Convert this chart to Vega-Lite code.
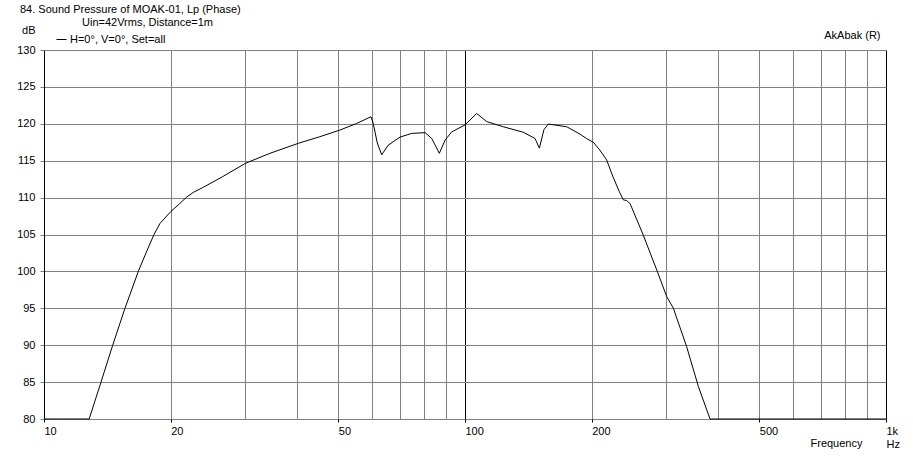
{
  "$schema": "https://vega.github.io/schema/vega-lite/v6.json",
  "width": 842,
  "height": 369,
  "autosize": "none",
  "padding": {"left": 44, "top": 50, "right": 27, "bottom": 37},
  "background": "white",
  "config": {"font": "Liberation Sans", "view": {"stroke": null}},
  "title": {"text": "84. Sound Pressure of MOAK-01, Lp (Phase)", "anchor": "start", "frame": "group", "dx": -24, "fontSize": 11, "fontWeight": "normal", "color": "black", "offset": 2},
  "data": {"values": [
    {"f": 10, "db": 80, "s": "H=0°, V=0°, Set=all"},
    {"f": 12.8, "db": 80, "s": "H=0°, V=0°, Set=all"},
    {"f": 13.66, "db": 85, "s": "H=0°, V=0°, Set=all"},
    {"f": 14.56, "db": 90, "s": "H=0°, V=0°, Set=all"},
    {"f": 15.57, "db": 95, "s": "H=0°, V=0°, Set=all"},
    {"f": 16.75, "db": 100, "s": "H=0°, V=0°, Set=all"},
    {"f": 17.5, "db": 102.6, "s": "H=0°, V=0°, Set=all"},
    {"f": 18.25, "db": 105, "s": "H=0°, V=0°, Set=all"},
    {"f": 18.86, "db": 106.5, "s": "H=0°, V=0°, Set=all"},
    {"f": 20.0, "db": 108.1, "s": "H=0°, V=0°, Set=all"},
    {"f": 20.83, "db": 109.0, "s": "H=0°, V=0°, Set=all"},
    {"f": 21.8, "db": 110.05, "s": "H=0°, V=0°, Set=all"},
    {"f": 22.62, "db": 110.7, "s": "H=0°, V=0°, Set=all"},
    {"f": 23.9, "db": 111.4, "s": "H=0°, V=0°, Set=all"},
    {"f": 26.5, "db": 112.8, "s": "H=0°, V=0°, Set=all"},
    {"f": 30.1, "db": 114.65, "s": "H=0°, V=0°, Set=all"},
    {"f": 34.4, "db": 116.0, "s": "H=0°, V=0°, Set=all"},
    {"f": 40.2, "db": 117.36, "s": "H=0°, V=0°, Set=all"},
    {"f": 45.2, "db": 118.25, "s": "H=0°, V=0°, Set=all"},
    {"f": 50.5, "db": 119.16, "s": "H=0°, V=0°, Set=all"},
    {"f": 55.3, "db": 120.05, "s": "H=0°, V=0°, Set=all"},
    {"f": 59.8, "db": 120.96, "s": "H=0°, V=0°, Set=all"},
    {"f": 60.5, "db": 120.1, "s": "H=0°, V=0°, Set=all"},
    {"f": 61.9, "db": 117.4, "s": "H=0°, V=0°, Set=all"},
    {"f": 63.4, "db": 115.8, "s": "H=0°, V=0°, Set=all"},
    {"f": 65.7, "db": 117.1, "s": "H=0°, V=0°, Set=all"},
    {"f": 70.1, "db": 118.2, "s": "H=0°, V=0°, Set=all"},
    {"f": 74.7, "db": 118.7, "s": "H=0°, V=0°, Set=all"},
    {"f": 80.4, "db": 118.8, "s": "H=0°, V=0°, Set=all"},
    {"f": 83.4, "db": 118.0, "s": "H=0°, V=0°, Set=all"},
    {"f": 86.9, "db": 116.0, "s": "H=0°, V=0°, Set=all"},
    {"f": 89.7, "db": 117.8, "s": "H=0°, V=0°, Set=all"},
    {"f": 93.0, "db": 118.9, "s": "H=0°, V=0°, Set=all"},
    {"f": 100, "db": 119.85, "s": "H=0°, V=0°, Set=all"},
    {"f": 106.6, "db": 121.4, "s": "H=0°, V=0°, Set=all"},
    {"f": 112.6, "db": 120.3, "s": "H=0°, V=0°, Set=all"},
    {"f": 123.3, "db": 119.6, "s": "H=0°, V=0°, Set=all"},
    {"f": 137.6, "db": 118.85, "s": "H=0°, V=0°, Set=all"},
    {"f": 146.7, "db": 118.0, "s": "H=0°, V=0°, Set=all"},
    {"f": 150.2, "db": 116.7, "s": "H=0°, V=0°, Set=all"},
    {"f": 154.0, "db": 119.2, "s": "H=0°, V=0°, Set=all"},
    {"f": 157.7, "db": 119.97, "s": "H=0°, V=0°, Set=all"},
    {"f": 174.4, "db": 119.6, "s": "H=0°, V=0°, Set=all"},
    {"f": 187.6, "db": 118.6, "s": "H=0°, V=0°, Set=all"},
    {"f": 194.4, "db": 118.0, "s": "H=0°, V=0°, Set=all"},
    {"f": 201.7, "db": 117.5, "s": "H=0°, V=0°, Set=all"},
    {"f": 209, "db": 116.45, "s": "H=0°, V=0°, Set=all"},
    {"f": 217, "db": 115.1, "s": "H=0°, V=0°, Set=all"},
    {"f": 224.7, "db": 112.8, "s": "H=0°, V=0°, Set=all"},
    {"f": 232.6, "db": 110.8, "s": "H=0°, V=0°, Set=all"},
    {"f": 237.7, "db": 109.7, "s": "H=0°, V=0°, Set=all"},
    {"f": 242, "db": 109.6, "s": "H=0°, V=0°, Set=all"},
    {"f": 246.6, "db": 109.2, "s": "H=0°, V=0°, Set=all"},
    {"f": 265.2, "db": 104.9, "s": "H=0°, V=0°, Set=all"},
    {"f": 285.4, "db": 100.2, "s": "H=0°, V=0°, Set=all"},
    {"f": 301.3, "db": 96.6, "s": "H=0°, V=0°, Set=all"},
    {"f": 312.6, "db": 95.0, "s": "H=0°, V=0°, Set=all"},
    {"f": 336.1, "db": 89.8, "s": "H=0°, V=0°, Set=all"},
    {"f": 358.4, "db": 84.4, "s": "H=0°, V=0°, Set=all"},
    {"f": 382, "db": 80, "s": "H=0°, V=0°, Set=all"},
    {"f": 1000, "db": 80, "s": "H=0°, V=0°, Set=all"}
  ]},
  "encoding": {
    "x": {
      "field": "f", "type": "quantitative",
      "scale": {"type": "log", "domain": [10, 1000], "nice": false},
      "axis": {
        "values": [10, 20, 30, 40, 50, 60, 70, 80, 90, 100, 200, 300, 400, 500, 600, 700, 800, 900, 1000],
        "grid": true,
        "gridColor": {"condition": {"test": "datum.value == 100 || datum.value == 1000", "value": "black"}, "value": "#808080"},
        "gridOpacity": 1,
        "domain": false,
        "tickColor": "black",
        "tickSize": 3,
        "tickOpacity": {"condition": {"test": "indexof([10,20,50,100,200,500,1000], datum.value) >= 0", "value": 1}, "value": 0},
        "labelExpr": "datum.value == 1000 ? ['1k', 'Hz'] : (indexof([10,20,50,100,200,500], datum.value) >= 0 ? toString(datum.value) : '')",
        "labelAlign": "left",
        "labelBaseline": "top",
        "labelPadding": 3,
        "labelFontSize": 11,
        "labelColor": "black",
        "labelLineHeight": 13,
        "labelOverlap": false,
        "labelFlush": false,
        "title": "Frequency",
        "titleX": 766,
        "titleY": 27,
        "titleAlign": "left",
        "titleBaseline": "alphabetic",
        "titleFontSize": 11,
        "titleFontWeight": "normal",
        "titleColor": "black"
      }
    }
  },
  "layer": [
    {
      "mark": {"type": "line", "strokeWidth": 1, "interpolate": "linear"},
      "encoding": {
        "y": {
          "field": "db", "type": "quantitative",
          "scale": {"domain": [80, 130], "nice": false, "zero": false},
          "axis": {
            "values": [80, 85, 90, 95, 100, 105, 110, 115, 120, 125, 130],
            "grid": true,
            "gridColor": "#808080",
            "gridOpacity": 1,
            "domainColor": "black",
            "tickColor": "#808080",
            "tickSize": 4,
            "labelPadding": 5,
            "labelFontSize": 11,
            "labelColor": "black",
            "title": "dB",
            "titleAngle": 0,
            "titleX": -9,
            "titleY": -17,
            "titleAlign": "right",
            "titleBaseline": "alphabetic",
            "titleFontSize": 11,
            "titleFontWeight": "normal",
            "titleColor": "black"
          }
        },
        "color": {
          "field": "s", "type": "nominal",
          "scale": {"range": ["black"]},
          "legend": {
            "orient": "none",
            "legendX": 38,
            "legendY": -33,
            "title": "Uin=42Vrms, Distance=1m",
            "titleAnchor": "start",
            "titleAlign": "left",
            "titleFontSize": 11,
            "titleFontWeight": "normal",
            "titleColor": "black",
            "titlePadding": 6,
            "labelFontSize": 11,
            "labelColor": "black",
            "symbolType": "stroke",
            "symbolStrokeWidth": 1,
            "symbolSize": 100,
            "symbolOffset": -26,
            "labelOffset": 3,
            "padding": 0
          }
        }
      }
    },
    {
      "mark": {"type": "line", "opacity": 0},
      "encoding": {
        "y": {
          "field": "db", "type": "quantitative",
          "axis": {
            "orient": "right",
            "labels": false,
            "ticks": false,
            "domain": false,
            "grid": false,
            "title": "AkAbak (R)",
            "titleAngle": 0,
            "titleX": -6,
            "titleY": -12,
            "titleAlign": "right",
            "titleBaseline": "alphabetic",
            "titleFontSize": 11,
            "titleFontWeight": "normal",
            "titleColor": "black"
          }
        }
      }
    }
  ],
  "resolve": {"axis": {"y": "independent"}}
}
